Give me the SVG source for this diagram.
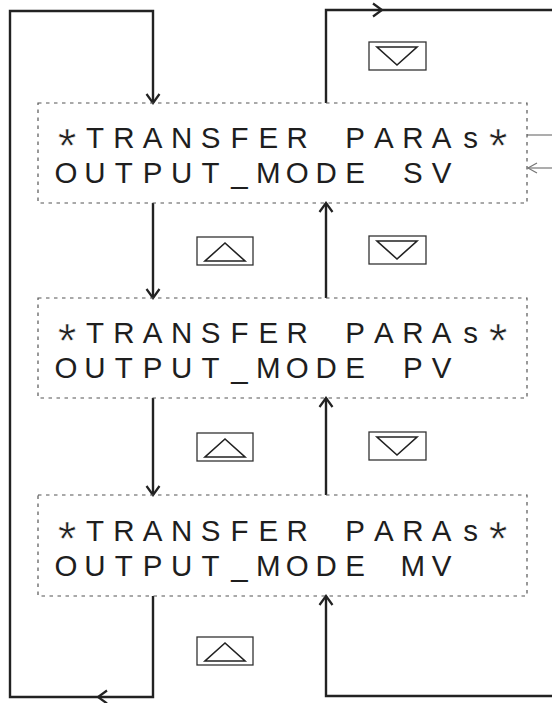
<svg xmlns="http://www.w3.org/2000/svg" width="552" height="703" viewBox="0 0 552 703">
  <style>
    .box { fill: none; stroke: #555; stroke-width: 1.2; stroke-dasharray: 3.5 4.5; }
    .lcd { font-family: "Liberation Sans", Arial, sans-serif; font-size: 29.5px; fill: #1e1e1e; text-anchor: middle; }
    .ast { font-size: 48px; stroke: #fff; stroke-width: 0.6; }
    .conn { fill: none; stroke: #222; stroke-width: 2.4; stroke-linejoin: miter; }
    .thin { fill: none; stroke: #777; stroke-width: 1.2; }
    .key { fill: #fff; stroke: #333; stroke-width: 1.3; }
    .tri { fill: none; stroke: #222; stroke-width: 1.6; stroke-linejoin: miter; }
  </style>
  <defs>
    <marker id="chev" viewBox="-12 -8 14 16" markerWidth="14" markerHeight="16" refX="0" refY="0" orient="auto" markerUnits="userSpaceOnUse">
      <path d="M-9,-6.5 L0,0 L-9,6.5" fill="none" stroke="#222" stroke-width="2.2"/>
    </marker>
    <marker id="chevThin" viewBox="-12 -8 14 16" markerWidth="14" markerHeight="16" refX="0" refY="0" orient="auto" markerUnits="userSpaceOnUse">
      <path d="M-9,-5 L0,0 L-9,5" fill="none" stroke="#777" stroke-width="1.2"/>
    </marker>
  </defs>
  <rect width="552" height="703" fill="#fff"/>

  <g id="connectors">
    <path class="conn" d="M153,596 V697 H98" marker-end="url(#chev)"/>
    <path class="conn" d="M98,697 H10 V11 H153 V103" marker-end="url(#chev)"/>
    <path class="conn" d="M153,203 V298" marker-end="url(#chev)"/>
    <path class="conn" d="M153,398 V495" marker-end="url(#chev)"/>
    <path class="conn" d="M552,696 H326 V596" marker-end="url(#chev)"/>
    <path class="conn" d="M326,495 V398" marker-end="url(#chev)"/>
    <path class="conn" d="M326,298 V203" marker-end="url(#chev)"/>
    <path class="conn" d="M326,103 V10 H382" marker-end="url(#chev)"/>
    <path class="conn" d="M382,10 H552"/>
    <path class="thin" d="M527,135 H552"/>
    <path class="thin" d="M552,168 H528" marker-end="url(#chevThin)"/>
  </g>

  <g id="key-down-1">
    <rect class="key" x="369" y="42" width="57" height="28"/>
    <path class="tri" d="M377,47 H417 L397,65 Z"/>
  </g>
  <g id="key-up-1">
    <rect class="key" x="197" y="237" width="56" height="28"/>
    <path class="tri" d="M205,261 H245 L225,243 Z"/>
  </g>
  <g id="key-down-2">
    <rect class="key" x="369" y="236" width="57" height="28"/>
    <path class="tri" d="M377,241 H417 L397,259 Z"/>
  </g>
  <g id="key-up-2">
    <rect class="key" x="197" y="433" width="56" height="28"/>
    <path class="tri" d="M205,457 H245 L225,439 Z"/>
  </g>
  <g id="key-down-3">
    <rect class="key" x="369" y="432" width="57" height="28"/>
    <path class="tri" d="M377,437 H417 L397,455 Z"/>
  </g>
  <g id="key-up-3">
    <rect class="key" x="197" y="637" width="56" height="28"/>
    <path class="tri" d="M205,661 H245 L225,643 Z"/>
  </g>

  <g id="node-sv">
    <rect class="box" x="38" y="103" width="489" height="100"/>
    <text class="lcd" y="148"><tspan class="ast" x="67" dy="14">*</tspan><tspan dy="-14" x="94.9 123.8 152.7 181.6 210.5 239.4 268.3 297.2 326.1 355 383.9 412.8 441.7 470.6">TRANSFER PARAs</tspan><tspan class="ast" x="498" dy="14">*</tspan><tspan y="183" x="66 94.9 123.8 152.7 181.6 210.5 239.4 268.3 297.2 326.1 355 383.9 412.8 441.7">OUTPUT_MODE SV</tspan></text>
  </g>
  <g id="node-pv">
    <rect class="box" x="38" y="298" width="489" height="100"/>
    <text class="lcd" y="343"><tspan class="ast" x="67" dy="14">*</tspan><tspan dy="-14" x="94.9 123.8 152.7 181.6 210.5 239.4 268.3 297.2 326.1 355 383.9 412.8 441.7 470.6">TRANSFER PARAs</tspan><tspan class="ast" x="498" dy="14">*</tspan><tspan y="378" x="66 94.9 123.8 152.7 181.6 210.5 239.4 268.3 297.2 326.1 355 383.9 412.8 441.7">OUTPUT_MODE PV</tspan></text>
  </g>
  <g id="node-mv">
    <rect class="box" x="38" y="495" width="489" height="101"/>
    <text class="lcd" y="541"><tspan class="ast" x="67" dy="14">*</tspan><tspan dy="-14" x="94.9 123.8 152.7 181.6 210.5 239.4 268.3 297.2 326.1 355 383.9 412.8 441.7 470.6">TRANSFER PARAs</tspan><tspan class="ast" x="498" dy="14">*</tspan><tspan y="576" x="66 94.9 123.8 152.7 181.6 210.5 239.4 268.3 297.2 326.1 355 383.9 412.8 441.7">OUTPUT_MODE MV</tspan></text>
  </g>
</svg>
